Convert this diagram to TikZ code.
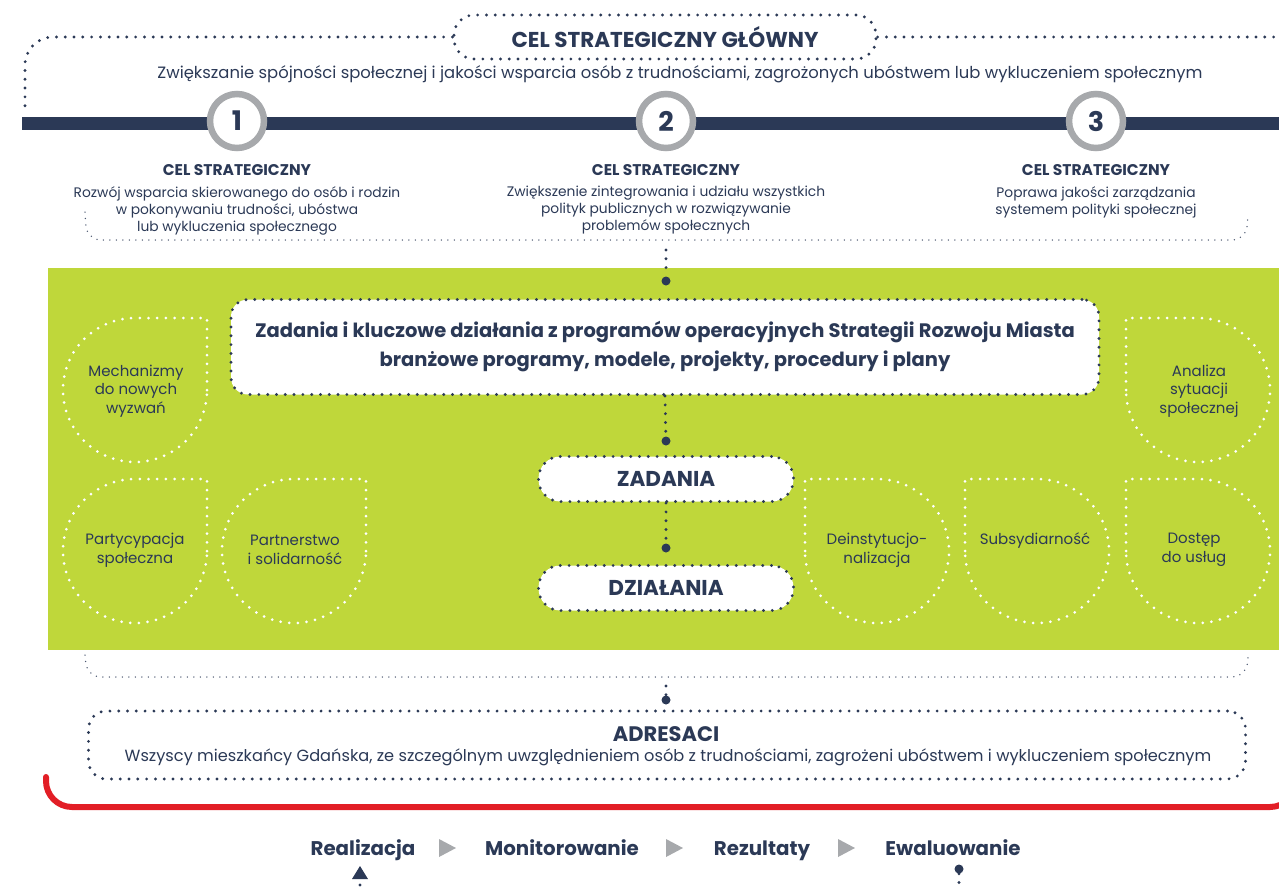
\documentclass[tikz,border=0pt]{standalone}
\usepackage{fontspec}
\setmainfont{Poppins}
\usepackage{tikz}
\usetikzlibrary{positioning}
\definecolor{granat}{RGB}{43,57,86}
\definecolor{limonka}{RGB}{191,215,58}
\definecolor{szary}{RGB}{167,169,172}
\definecolor{czerwony}{RGB}{226,30,38}
\tikzset{
  kropki/.style={draw=granat, line width=3.2pt, line cap=round, dash pattern=on 0pt off 8.8pt},
  kropkicienkie/.style={draw=granat!85, line width=1.5pt, line cap=round, dash pattern=on 0pt off 6.5pt},
  kropkibiale/.style={draw=white, line width=3pt, line cap=round, dash pattern=on 0pt off 8.7pt},
  ramka/.style={kropki, fill=white, rounded corners=20pt, inner sep=0pt, text=granat},
  kolko/.style={circle, draw=szary, line width=6.5pt, fill=white, minimum size=54pt, inner sep=0pt,
    text=granat, font=\bfseries\fontsize{27}{27}\selectfont},
  kropka/.style={circle, fill=granat, minimum size=9pt, inner sep=0pt},
  opis/.style={text=granat, align=center, inner sep=0pt, font=\fontsize{13.8}{17}\selectfont},
  tytul/.style={text=granat, inner sep=0pt, font=\bfseries\fontsize{15.5}{17}\selectfont},
  wartosc/.style={text=granat, align=center, inner sep=0pt, font=\fontsize{15}{18.5}\selectfont},
  etap/.style={text=granat, inner sep=0pt, anchor=base, font=\bfseries\fontsize{19.8}{22}\selectfont},
}

\begin{document}
\begin{tikzpicture}[x=1pt, y=-1pt]
  \useasboundingbox (0,0) rectangle (1279,886);

  % cel glowny
  \node[ramka, minimum width=422pt, minimum height=44pt,
    font=\bfseries\fontsize{21.5}{23}\selectfont] (glowny) at (665,37) {CEL STRATEGICZNY GŁÓWNY};
  \coordinate (g1) at (25,113);
  \coordinate (g2) at (1285,37);
  \draw[kropki, rounded corners=28pt] (glowny.west) -- (25,37) -- (g1);
  \draw[kropki] (glowny.east) -- (g2);
  \node[text=granat, font=\fontsize{16.4}{18}\selectfont] (glownyopis) at (680,74)
    {Zwiększanie spójności społecznej i jakości wsparcia osób z trudnościami, zagrożonych ubóstwem lub wykluczeniem społecznym};

  % os z celami
  \fill[granat] (22,117) rectangle (1279,130);
  \foreach \n/\x in {1/237, 2/666, 3/1096}
    \node[kolko] (c\n) at (\x,121) {\n};

  \node[tytul] (t1) at (237,170) {CEL STRATEGICZNY};
  \node[tytul] (t2) at (666,170) {CEL STRATEGICZNY};
  \node[tytul] (t3) at (1096,170) {CEL STRATEGICZNY};
  \node[opis, anchor=north] (o1) at (237,186) {Rozwój wsparcia skierowanego do osób i rodzin\\
    w pokonywaniu trudności, ubóstwa\\lub wykluczenia społecznego};
  \node[opis, anchor=north] (o2) at (666,186) {Zwiększenie zintegrowania i udziału wszystkich\\
    polityk publicznych w rozwiązywanie\\problemów społecznych};
  \node[opis, anchor=north] (o3) at (1096,186) {Poprawa jakości zarządzania\\systemem polityki społecznej};
  \draw[kropkicienkie, rounded corners=14pt] (85,212) -- (87,240) -- (1246,240) -- (1248,215);

  % pole zielone
  \fill[limonka] (48,268) rectangle (1279,650);
  \coordinate (p1) at (666,250);
  \node[kropka] (k1) at (666,281) {};
  \draw[kropki] (p1) -- (k1);

  \node[ramka, minimum width=868pt, minimum height=95pt, rounded corners=17pt, align=center,
    font=\bfseries\fontsize{19.5}{29}\selectfont] (zadania) at (665,347)
    {Zadania i kluczowe działania z programów operacyjnych Strategii Rozwoju Miasta\\
     branżowe programy, modele, projekty, procedury i plany};
  \node[kropka] (k2) at (666,441) {};
  \draw[kropki] (zadania.south) -- (k2);
  \node[ramka, minimum width=255pt, minimum height=45pt, rounded corners=22pt,
    font=\bfseries\fontsize{21.5}{23}\selectfont] (zad) at (666,479) {ZADANIA};
  \node[kropka] (k3) at (666,548) {};
  \draw[kropki] (zad.south) -- (k3);
  \node[ramka, minimum width=255pt, minimum height=45pt, rounded corners=22pt,
    font=\bfseries\fontsize{21.5}{23}\selectfont] (dzial) at (666,588) {DZIAŁANIA};

  % wartosci
  \foreach \cx/\cy in {135/390, 135/551, 294/551}
    \draw[kropkibiale] (\cx+72,\cy) -- (\cx+72,\cy-72) -- (\cx,\cy-72) [rounded corners=72pt]
      -- (\cx-72,\cy-72) -- (\cx-72,\cy+72) -- (\cx+72,\cy+72) -- (\cx+72,\cy);
  \foreach \cx/\cy in {877/551, 1037/551, 1198/551, 1198/390}
    \draw[kropkibiale] (\cx-72,\cy) -- (\cx-72,\cy-72) -- (\cx,\cy-72) [rounded corners=72pt]
      -- (\cx+72,\cy-72) -- (\cx+72,\cy+72) -- (\cx-72,\cy+72) -- (\cx-72,\cy);
  \node[wartosc] (mech) at (136,391) {Mechanizmy\\do nowych\\wyzwań};
  \node[wartosc] (party) at (135,550) {Partycypacja\\społeczna};
  \node[wartosc] (partn) at (295,550) {Partnerstwo\\i solidarność};
  \node[wartosc] (deinst) at (877,550) {Deinstytucjo-\\nalizacja};
  \node[wartosc] (subs) at (1035,541) {Subsydiarność};
  \node[wartosc] (dostep) at (1194,550) {Dostęp\\do usług};
  \node[wartosc] (analiza) at (1199,391) {Analiza\\sytuacji\\społecznej};

  % adresaci
  \draw[kropkicienkie, rounded corners=14pt] (85,655) -- (87,677) -- (1246,677) -- (1248,657);
  \coordinate (p2) at (666,686);
  \node[kropka] (k4) at (666,700) {};
  \draw[kropki] (p2) -- (k4);
  \node[ramka, minimum width=1157pt, minimum height=68pt, rounded corners=18pt] (adresaci) at (667,745) {};
  \node[text=granat, font=\bfseries\fontsize{21}{23}\selectfont] (adrtytul) at (666,734) {ADRESACI};
  \node[text=granat, font=\fontsize{16.2}{18}\selectfont] (adropis) at (668,757)
    {Wszyscy mieszkańcy Gdańska, ze szczególnym uwzględnieniem osób z trudnościami, zagrożeni ubóstwem i wykluczeniem społecznym};
  \draw[czerwony, line width=6pt, line cap=round, rounded corners=26pt] (46,777) -- (46,807) -- (1296,807) -- (1296,760);

  % etapy
  \node[etap] (real) at (363,855) {Realizacja};
  \node[etap] (monit) at (562,855) {Monitorowanie};
  \node[etap] (rez) at (762,855) {Rezultaty};
  \node[etap] (ewal) at (953,855) {Ewaluowanie};
  \foreach \x in {447, 674, 846}
    \fill[szary] (\x-8,839) -- (\x+9,848) -- (\x-8,857) -- cycle;
  \fill[granat] (352,879) -- (360,866) -- (368,879) -- cycle;
  \coordinate (p3) at (360,895);
  \draw[kropki] (360,885) -- (p3);
  \node[kropka] (k5) at (959,869) {};
  \coordinate (p4) at (959,895);
  \draw[kropki] (k5) -- (p4);
\end{tikzpicture}
\end{document}
